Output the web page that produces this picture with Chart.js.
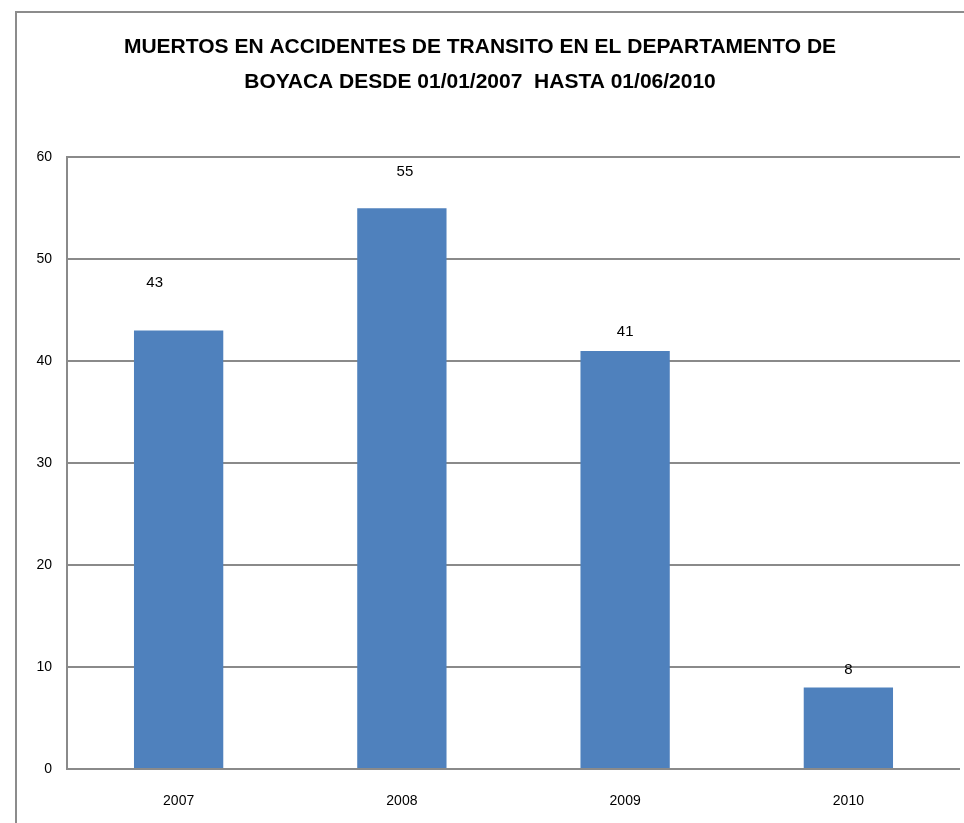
<!DOCTYPE html>
<html>
<head>
<meta charset="utf-8">
<script src="https://cdn.jsdelivr.net/npm/chart.js@4/dist/chart.umd.min.js"></script>
<style>
  html, body { margin: 0; padding: 0; background: #ffffff; }
  #wrap { width: 964px; height: 823px; position: relative; }
</style>
</head>
<body>
<div id="wrap"><canvas id="c"></canvas></div>
<script>
// ---- Data ----
const categories = ["2007", "2008", "2009", "2010"];
const deaths = [43, 55, 41, 8];
const yTicks = [0, 10, 20, 30, 40, 50, 60];
const titleLines = [
  "MUERTOS EN ACCIDENTES DE TRANSITO EN EL DEPARTAMENTO DE",
  "BOYACA DESDE 01/01/2007  HASTA 01/06/2010"
];

// ---- Style (label nudges, in pixels, as placed in the original) ----
const labelNudge = [[-24, -48], [3, -36], [0, -19], [0, -18]];
const FONT = "'Liberation Sans', Arial, sans-serif";
const GRID = "#8a8a8a";

const borderPlugin = {
  id: "frame",
  beforeDraw(chart) {
    const ctx = chart.ctx;
    ctx.save();
    ctx.strokeStyle = "#8c8c8c";
    ctx.lineWidth = 2;
    ctx.beginPath();
    ctx.moveTo(16, chart.height + 2);
    ctx.lineTo(16, 12);
    ctx.lineTo(chart.width + 2, 12);
    ctx.stroke();
    ctx.restore();
  }
};

const valueLabels = {
  id: "valueLabels",
  afterDatasetsDraw(chart) {
    const ctx = chart.ctx;
    const meta = chart.getDatasetMeta(0);
    ctx.save();
    ctx.font = "15px " + FONT;
    ctx.fillStyle = "#000000";
    ctx.textAlign = "center";
    ctx.textBaseline = "middle";
    meta.data.forEach((bar, i) => {
      const n = labelNudge[i] || [0, -20];
      ctx.fillText(String(deaths[i]), bar.x + n[0], bar.y + n[1]);
    });
    ctx.restore();
  }
};

new Chart(document.getElementById("c"), {
  type: "bar",
  data: {
    labels: categories,
    datasets: [{
      data: deaths,
      backgroundColor: "#4F81BD",
      borderWidth: 0,
      barPercentage: 0.4,
      categoryPercentage: 1.0
    }]
  },
  options: {
    responsive: true,
    maintainAspectRatio: false,
    animation: false,
    layout: { padding: { left: 0, right: 4, top: 0, bottom: 0 } },
    plugins: {
      legend: { display: false },
      tooltip: { enabled: false },
      title: {
        display: true,
        text: titleLines,
        color: "#000000",
        font: { family: FONT, size: 21, weight: "bold", lineHeight: 1.65 },
        padding: { top: 30, bottom: 58 }
      }
    },
    scales: {
      x: {
        grid: { display: false, drawTicks: false },
        border: { display: false },
        ticks: {
          color: "#000000",
          font: { family: FONT, size: 14 },
          padding: 24
        },
        afterFit(s) { s.height = 54; }
      },
      y: {
        min: 0,
        max: 60,
        afterBuildTicks(s) { s.ticks = yTicks.map(v => ({ value: v })); },
        grid: { color: GRID, lineWidth: 2, drawTicks: false },
        border: { display: true, color: GRID, width: 2 },
        ticks: {
          color: "#000000",
          font: { family: FONT, size: 14 },
          padding: 15
        },
        afterFit(s) { s.width = 67; }
      }
    }
  },
  plugins: [borderPlugin, valueLabels]
});
</script>
</body>
</html>
